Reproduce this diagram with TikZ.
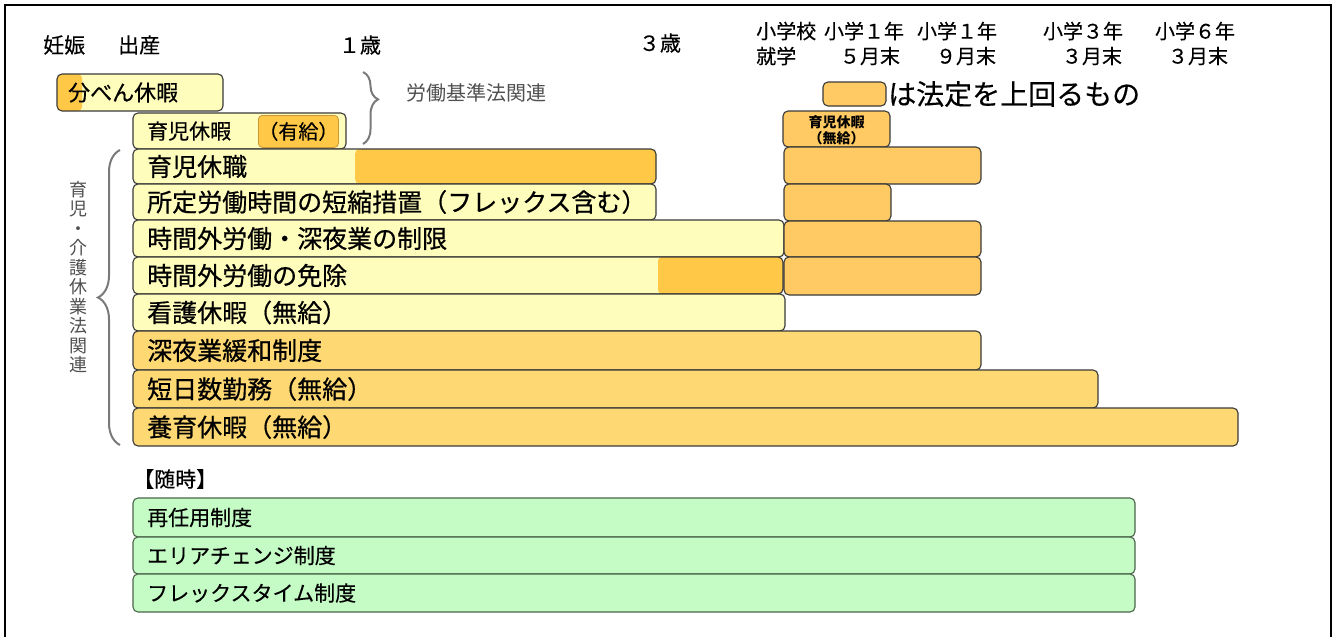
\documentclass[tikz,border=0pt]{standalone}
\usepackage{fontspec}
\setmainfont{Noto Sans CJK JP}
\newfontfamily\jpm[FakeBold=0.6]{Noto Sans CJK JP}
\newfontfamily\jpl[FakeBold=0.3]{Noto Sans CJK JP}
\usetikzlibrary{decorations.pathreplacing}
\definecolor{ylw}{HTML}{FFFDBB}
\definecolor{org}{HTML}{FFC846}
\definecolor{rorg}{HTML}{FFC963}
\definecolor{gold}{HTML}{FDD873}
\definecolor{grn}{HTML}{C5FCC5}
\definecolor{edge}{HTML}{3A3A3A}
\definecolor{gedge}{HTML}{4B654B}
\definecolor{braceg}{HTML}{7A7A7A}
\definecolor{txtg}{HTML}{505050}
\definecolor{inedge}{HTML}{C9973A}
\newcommand\fsz[1]{\fontsize{#1pt}{#1pt}\selectfont}
\begin{document}
\begin{tikzpicture}[x=1pt,y=-1pt,
  bar/.style={draw=edge, line width=1.1pt, rounded corners=5pt, inner sep=0pt, outer sep=0pt, anchor=north west},
  gbar/.style={bar, draw=gedge, fill=grn},
  lbl/.style={anchor=west, inner sep=0pt, font=\jpm\fsz{25}},
  hdr/.style={inner sep=0pt, font=\jpl\fsz{21}},
  hdrs/.style={inner sep=0pt, font=\jpl\fsz{20}},
  brc/.style={draw=braceg, line width=2pt, decorate},
]
\useasboundingbox (0,0) rectangle (1334,637);
\fill[white] (0,0) rectangle (1334,637);
\draw[line width=2.5pt] (5,660) -- (5,5) -- (1331,5) -- (1331,660);

% header
\node[hdr, anchor=west] (hA) at (43,45) {妊娠};
\node[hdr, anchor=west] (hB) at (118,45) {出産};
\node[hdr] (hC) at (360,45) {１歳};
\node[hdr] (hD) at (660,43) {３歳};
\node[hdrs, anchor=west] (hE1) at (756,31) {小学校};
\node[hdrs, anchor=west] (hE2) at (756,56) {就学};
\node[hdrs] (hF1) at (864,31) {小学１年};
\node[hdrs] (hF2) at (870,56) {５月末};
\node[hdrs] (hG1) at (957,31) {小学１年};
\node[hdrs] (hG2) at (966,56) {９月末};
\node[hdrs] (hH1) at (1083,31) {小学３年};
\node[hdrs] (hH2) at (1092,56) {３月末};
\node[hdrs] (hI1) at (1195,31) {小学６年};
\node[hdrs] (hI2) at (1198,56) {３月末};

% legend
\node[bar, fill=rorg, minimum width=63pt, minimum height=24pt] (lg) at (823,82) {};
\node[anchor=west, inner sep=0pt, font=\jpl\fsz{28}] (lgt) at ([xshift=2pt]lg.east) {は法定を上回るもの};

% labour standards
\node[bar, fill=ylw, minimum width=166pt, minimum height=37pt,
  path picture={\fill[org, rounded corners=4pt] ([xshift=-6pt]path picture bounding box.north west) rectangle ([xshift=25pt]path picture bounding box.south west);}] (b1) at (57,74) {};
\node[anchor=west, inner sep=0pt, font=\jpl\fsz{22}] (b1t) at ([xshift=11pt]b1.west) {分べん休暇};
\node[bar, fill=ylw, minimum width=213pt, minimum height=36pt] (b2) at (133,113) {};
\node[anchor=west, inner sep=0pt, font=\jpl\fsz{21}] (b2t) at ([xshift=14pt]b2.west) {育児休暇};
\node[draw=inedge, line width=0.8pt, fill=org, rounded corners=4pt, anchor=north west, inner sep=0pt,
  minimum width=79pt, minimum height=32pt, font=\jpl\fsz{20}] (b2p) at (258,115) {（有給）};
\draw[brc, decoration={brace, amplitude=15pt, aspect=0.38}] (363,72) -- (363,144);
\node[anchor=west, inner sep=0pt, font=\fsz{20}, text=txtg] (lsl) at (406,93) {労働基準法関連};

% childcare rows
\node[bar, fill=ylw, minimum width=523pt, minimum height=35pt,
  path picture={\fill[org] ([xshift=222pt]path picture bounding box.north west) rectangle ([xshift=10pt]path picture bounding box.south east);}] (r1) at (133,149) {};
\node[lbl] (t1) at ([xshift=14pt]r1.west) {育児休職};
\node[bar, fill=ylw, minimum width=523pt, minimum height=36pt] (r2) at (133,184) {};
\node[lbl] (t2) at ([xshift=14pt]r2.west) {所定労働時間の短縮措置（フレックス含む）};
\node[bar, fill=ylw, minimum width=651pt, minimum height=37pt] (r3) at (133,220) {};
\node[lbl] (t3) at ([xshift=14pt]r3.west) {時間外労働・深夜業の制限};
\node[bar, fill=ylw, minimum width=650pt, minimum height=37pt,
  path picture={\fill[org, rounded corners=4pt] ([xshift=525pt]path picture bounding box.north west) rectangle ([xshift=10pt]path picture bounding box.south east);}] (r4) at (133,257) {};
\node[lbl] (t4) at ([xshift=14pt]r4.west) {時間外労働の免除};
\node[bar, fill=ylw, minimum width=652pt, minimum height=37pt] (r5) at (133,294) {};
\node[lbl] (t5) at ([xshift=14pt]r5.west) {看護休暇（無給）};
\node[bar, fill=gold, minimum width=848pt, minimum height=39pt] (r6) at (133,331) {};
\node[lbl] (t6) at ([xshift=14pt]r6.west) {深夜業緩和制度};
\node[bar, fill=gold, minimum width=965pt, minimum height=38pt] (r7) at (133,370) {};
\node[lbl] (t7) at ([xshift=14pt]r7.west) {短日数勤務（無給）};
\node[bar, fill=gold, minimum width=1105pt, minimum height=38pt] (r8) at (133,408) {};
\node[lbl] (t8) at ([xshift=14pt]r8.west) {養育休暇（無給）};

% right column
\node[bar, fill=rorg, minimum width=107pt, minimum height=36pt] (q0) at (783,111) {};
\node[inner sep=0pt, align=center, font=\fontsize{14pt}{16pt}\selectfont\bfseries] (q0t) at ([yshift=-1pt]q0.center) {育児休暇\\（無給）};
\node[bar, fill=rorg, minimum width=197pt, minimum height=37pt] (q1) at (784,147) {};
\node[bar, fill=rorg, minimum width=107pt, minimum height=37pt] (q2) at (784,184) {};
\node[bar, fill=rorg, minimum width=197pt, minimum height=36pt] (q3) at (784,221) {};
\node[bar, fill=rorg, minimum width=197pt, minimum height=38pt] (q4) at (784,257) {};

% big brace + vertical label
\draw[brc, decoration={brace, amplitude=22pt, aspect=0.5}] (120,445) -- (120,150);
\node[inner sep=0pt, align=center, text=txtg, font=\fontsize{18pt}{19.5pt}\selectfont] (vl) at (78,277)
  {育\\児\\・\\介\\護\\休\\業\\法\\関\\連};

% anytime
\node[anchor=west, inner sep=0pt, font=\jpl\fsz{21}] (any) at (133,479) {【随時】};
\node[gbar, minimum width=1002pt, minimum height=39pt] (g1) at (133,498) {};
\node[anchor=west, inner sep=0pt, font=\jpl\fsz{21}] (g1t) at ([xshift=14pt]g1.west) {再任用制度};
\node[gbar, minimum width=1002pt, minimum height=37pt] (g2) at (133,537) {};
\node[anchor=west, inner sep=0pt, font=\jpl\fsz{21}] (g2t) at ([xshift=14pt]g2.west) {エリアチェンジ制度};
\node[gbar, minimum width=1002pt, minimum height=38pt] (g3) at (133,574) {};
\node[anchor=west, inner sep=0pt, font=\jpl\fsz{21}] (g3t) at ([xshift=14pt]g3.west) {フレックスタイム制度};
\end{tikzpicture}
\end{document}
